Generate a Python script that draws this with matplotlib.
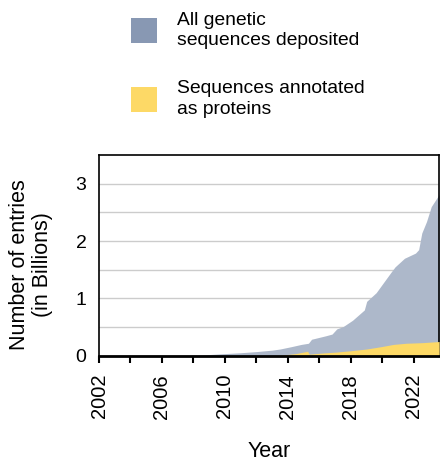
import matplotlib
matplotlib.use("Agg")
import matplotlib.pyplot as plt
from matplotlib.patches import Patch

plt.rcParams['font.family'] = ['Liberation Sans', 'DejaVu Sans']

all_years = [2002, 2004, 2006, 2007.5, 2008.5, 2010, 2011, 2012, 2013, 2013.5, 2014.2,
             2014.85, 2015.3, 2015.5, 2016.4, 2016.8, 2017.1, 2017.5, 2018.1, 2018.6,
             2018.85, 2019.0, 2019.6, 2020.05, 2020.5, 2020.8, 2021.4, 2022.1, 2022.3,
             2022.5, 2022.8, 2023.1, 2023.6]
all_values = [0.0, 0.0, 0.002, 0.006, 0.015, 0.04, 0.055, 0.075, 0.1, 0.12, 0.16,
              0.2, 0.22, 0.29, 0.35, 0.38, 0.47, 0.51, 0.62, 0.74,
              0.8, 0.95, 1.10, 1.27, 1.44, 1.55, 1.70, 1.79, 1.85,
              2.14, 2.34, 2.60, 2.81]

prot_years = [2002, 2012.5, 2013.5, 2014.5, 2015.25, 2015.35, 2016.2, 2017.0, 2018.0,
              2019.0, 2019.9, 2020.7, 2021.5, 2022.5, 2023.6]
prot_values = [0.0, 0.0, 0.01, 0.04, 0.08, 0.03, 0.05, 0.065, 0.09,
               0.12, 0.16, 0.2, 0.22, 0.23, 0.25]

labels = ["All genetic\nsequences deposited", "Sequences annotated\nas proteins"]
fill_colors = ["#adb8ca", "#fdd966"]
legend_colors = ["#8898b3", "#fdd966"]

x_ticks = [2002, 2006, 2010, 2014, 2018, 2022]
y_ticks = [0, 1, 2, 3]

fig = plt.figure(figsize=(4.4, 4.61), dpi=100)
ax = fig.add_axes([0.225, 0.228, 0.773, 0.436])

ax.fill_between(all_years, 0, all_values, color=fill_colors[0], lw=0, zorder=2)
ax.fill_between(prot_years, 0, prot_values, color=fill_colors[1], lw=0, zorder=3)

ax.set_xlim(2002, 2023.6)
ax.set_ylim(0, 3.5)
ax.set_xticks(range(2002, 2024, 2), minor=False)
ax.set_xticklabels([str(y) if y in x_ticks else "" for y in range(2002, 2024, 2)],
                   rotation=90, fontsize=14.5)
ax.set_yticks(y_ticks)
ax.set_yticklabels([str(v) for v in y_ticks], fontsize=14)
ax.set_yticks([0.5, 1.5, 2.5], minor=True)
ax.tick_params(axis='y', length=0, pad=9)
ax.tick_params(axis='y', which='minor', length=0)
ax.tick_params(axis='x', length=5, width=1.5, direction='out', pad=8)
ax.grid(axis='y', which='both', color='#cccccc', lw=1, zorder=1)
for s in ['left', 'top', 'right']:
    ax.spines[s].set_linewidth(1.2)
ax.spines['bottom'].set_linewidth(2)
ax.spines['bottom'].set_zorder(5)

ax.set_xlabel("Year", fontsize=15.5, labelpad=16)
ax.set_ylabel("Number of entries\n(in Billions)", fontsize=15.5, linespacing=1.15)
ax.yaxis.set_label_coords(-0.135, 0.453)

handles = [Patch(facecolor=c, edgecolor='none') for c in legend_colors]
leg = fig.legend(handles, labels, loc='upper left', bbox_to_anchor=(0.298, 0.975),
                 bbox_transform=fig.transFigure, frameon=False, fontsize=13.9,
                 handlelength=1.35, handleheight=1.6, handletextpad=1.05,
                 labelspacing=1.6, borderpad=0, borderaxespad=0)
for t in leg.get_texts():
    t.set_linespacing(1.3)

fig.savefig("out.png", dpi=100)
